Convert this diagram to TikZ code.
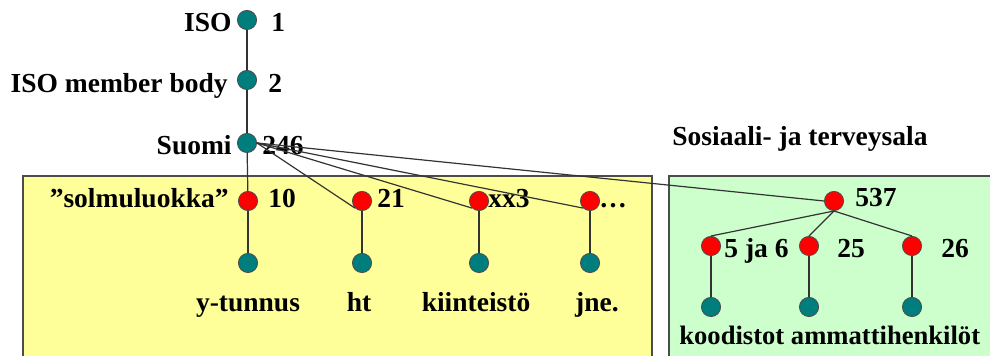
\documentclass[tikz,border=0pt]{standalone}
\usepackage{fontspec}
\setmainfont{Liberation Serif}
\usetikzlibrary{positioning,calc}
\definecolor{oidteal}{RGB}{0,125,125}
\definecolor{oidyellow}{RGB}{255,255,153}
\definecolor{oidgreen}{RGB}{204,255,204}

\begin{document}
\begin{tikzpicture}[x=0.5pt,y=-0.5pt,
        tnode/.style={circle,draw=black!70,fill=oidteal,minimum size=9.6pt,inner sep=0pt},
        rnode/.style={circle,draw=black!70,fill=red,minimum size=9.6pt,inner sep=0pt},
        lbl/.style={font=\fontsize{13.75}{16}\selectfont\bfseries,inner sep=0pt},
        area/.style={draw=black!70,line width=0.8pt},
        link/.style={draw=black!80,line width=0.6pt}]
        \useasboundingbox (0,0) rectangle (990,356);
        \draw[area,fill=oidyellow] (23,176) rectangle (652,372);
        \draw[area,fill=oidgreen] (669,176) rectangle (1000,372);
        \node[tnode] (iso) at (247,20){};
        \node[tnode] (memb) at (247,80){};
        \node[tnode] (suomi) at (247,143){};
        \node[rnode] (sol) at (248,201){};
        \node[rnode] (ht) at (362,201){};
        \node[rnode] (kiint) at (479,201){};
        \node[rnode] (jne) at (590,201){};
        \node[tnode] (ytunb) at (248,263){};
        \node[tnode] (htb) at (362,263){};
        \node[tnode] (kiintb) at (479,263){};
        \node[tnode] (jneb) at (590,263){};
        \node[rnode] (sote) at (834,201){};
        \node[rnode] (koodi) at (711,246){};
        \node[rnode] (amm) at (809,246){};
        \node[rnode] (muu) at (912,246){};
        \node[tnode] (koodib) at (711,307){};
        \node[tnode] (ammb) at (809,307){};
        \node[tnode] (muub) at (912,307){};
        \node[lbl,anchor=base east] (isot) at (232,32){ISO};
        \node[lbl,anchor=base west] (ison) at (271,32){1};
        \node[lbl,anchor=base east] (membt) at (228,93){ISO member body};
        \node[lbl,anchor=base west] (membn) at (268,93){2};
        \node[lbl,anchor=base east] (suomit) at (232,155){Suomi};
        \node[lbl,anchor=base west] (suomin) at (262,155){246};
        \node[lbl,anchor=base east] (solt) at (229,208){”solmuluokka”};
        \node[lbl,anchor=base west] (soln) at (268,208){10};
        \node[lbl,anchor=base west] (htn) at (377,208){21};
        \node[lbl,anchor=base west] (kiintn) at (488,208){xx3};
        \node[lbl,anchor=base west] (jnen) at (599,208){…};
        \node[lbl,anchor=base] (ytunt) at (248,312){y-tunnus};
        \node[lbl,anchor=base] (htt) at (359,312){ht};
        \node[lbl,anchor=base] (kiintt) at (476,312){kiinteistö};
        \node[lbl,anchor=base] (jnet) at (597,312){jne.};
        \node[lbl,anchor=base west] (sotet) at (672,146){Sosiaali- ja terveysala};
        \node[lbl,anchor=base west] (soten) at (855,207){537};
        \node[lbl,anchor=base west] (koodin) at (724,258){5 ja 6};
        \node[lbl,anchor=base west] (ammn) at (837,258){25};
        \node[lbl,anchor=base west] (muun) at (941,258){26};
        \node[lbl,anchor=base west,font=\fontsize{13.3}{16}\selectfont\bfseries] (koodit) at (679,345){koodistot ammattihenkilöt};
        \draw[link] (iso) -- (memb);
        \draw[link] (memb) -- (suomi);
        \draw[link] (suomi) -- (sol);
        \draw[link] (suomi.east) -- (ht.south west);
        \draw[link] (suomi.east) -- (kiint.south west);
        \draw[link] (suomi.east) -- (jne.south west);
        \draw[link] (suomi.east) -- (sote.west);
        \draw[link] (sol) -- (ytunb);
        \draw[link] (ht) -- (htb);
        \draw[link] (kiint) -- (kiintb);
        \draw[link] (jne) -- (jneb);
        \draw[link] (sote.south) -- (koodi.north);
        \draw[link] (sote.south) -- (amm.north);
        \draw[link] (sote.south) -- (muu.north);
        \draw[link] (koodi) -- (koodib);
        \draw[link] (amm) -- (ammb);
        \draw[link] (muu) -- (muub);
\end{tikzpicture}
\end{document}
